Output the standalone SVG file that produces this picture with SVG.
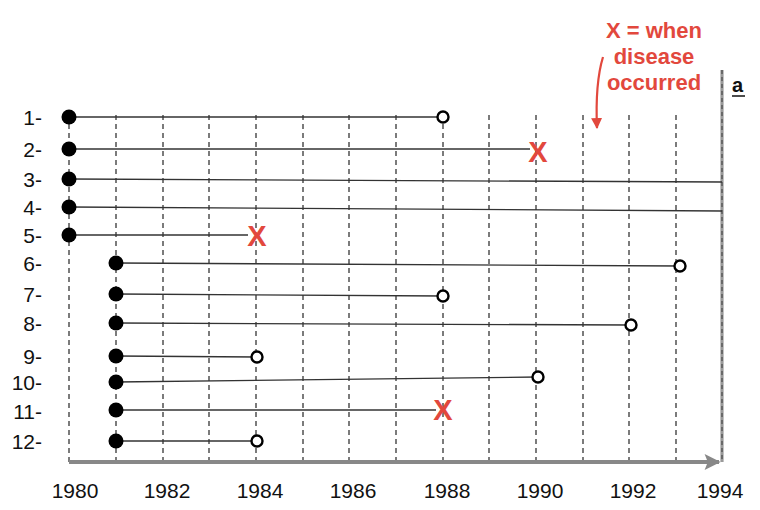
<svg xmlns="http://www.w3.org/2000/svg" width="760" height="510" viewBox="0 0 760 510">
<style>
.grid{stroke:#444;stroke-width:1.4;stroke-dasharray:5 4;fill:none}
.life{stroke:#333;stroke-width:1.3;fill:none}
.start{fill:#000}
.end{fill:#fff;stroke:#000;stroke-width:2.4}
.lbl{font-family:"Liberation Sans",Arial,sans-serif;font-size:21px;fill:#111}
.yr{font-family:"Liberation Sans",Arial,sans-serif;font-size:21px;fill:#111;text-anchor:middle}
.x{font-family:"Liberation Sans",Arial,sans-serif;font-size:29px;font-weight:bold;fill:#e2483d;text-anchor:middle}
.note{font-family:"Liberation Sans",Arial,sans-serif;font-size:22px;font-weight:bold;fill:#e2483d;text-anchor:middle}
</style>
<defs>
<marker id="ah" viewBox="0 0 10 10" refX="9" refY="5" markerWidth="5" markerHeight="5" orient="auto"><path d="M0,0 L10,5 L0,10 Z" fill="#e2483d"/></marker>
<marker id="axh" viewBox="0 0 10 10" refX="9" refY="5" markerWidth="6" markerHeight="4" orient="auto" markerUnits="strokeWidth"><path d="M0,0 L10,5 L0,10 L2,5 Z" fill="#888"/></marker>
</defs>
<g id="grid">
<line class="grid" x1="69" y1="115" x2="69" y2="462"/>
<line class="grid" x1="116" y1="115" x2="116" y2="462"/>
<line class="grid" x1="163" y1="115" x2="163" y2="462"/>
<line class="grid" x1="209" y1="115" x2="209" y2="462"/>
<line class="grid" x1="256" y1="115" x2="256" y2="462"/>
<line class="grid" x1="303" y1="115" x2="303" y2="462"/>
<line class="grid" x1="349" y1="115" x2="349" y2="462"/>
<line class="grid" x1="396" y1="115" x2="396" y2="462"/>
<line class="grid" x1="443" y1="115" x2="443" y2="462"/>
<line class="grid" x1="489" y1="115" x2="489" y2="462"/>
<line class="grid" x1="536" y1="115" x2="536" y2="462"/>
<line class="grid" x1="583" y1="115" x2="583" y2="462"/>
<line class="grid" x1="629" y1="115" x2="629" y2="462"/>
<line class="grid" x1="676" y1="115" x2="676" y2="462"/>
<line x1="722" y1="70" x2="722" y2="462" stroke="#9a9a9a" stroke-width="3.2"/>
<line x1="722" y1="70" x2="722" y2="462" stroke="#555" stroke-width="1.4" stroke-dasharray="4 3"/>
</g>
<g id="axis">
<line x1="69" y1="462" x2="719" y2="462" stroke="#888" stroke-width="4" marker-end="url(#axh)"/>
<text class="yr" x="75" y="498">1980</text>
<text class="yr" x="167" y="498">1982</text>
<text class="yr" x="260" y="498">1984</text>
<text class="yr" x="353" y="498">1986</text>
<text class="yr" x="447" y="498">1988</text>
<text class="yr" x="540" y="498">1990</text>
<text class="yr" x="633" y="498">1992</text>
<text class="yr" x="720" y="498">1994</text>
</g>
<g id="connectors">
<line class="life" x1="69" y1="117" x2="443" y2="117"/>
<line class="life" x1="69" y1="149" x2="530" y2="149"/>
<line class="life" x1="69" y1="179" x2="722" y2="182"/>
<line class="life" x1="69" y1="207" x2="722" y2="211"/>
<line class="life" x1="69" y1="235" x2="248" y2="235"/>
<line class="life" x1="116" y1="263" x2="680" y2="266"/>
<line class="life" x1="116" y1="294" x2="443" y2="296"/>
<line class="life" x1="116" y1="323" x2="631" y2="325"/>
<line class="life" x1="116" y1="356" x2="257" y2="357"/>
<line class="life" x1="116" y1="382" x2="538" y2="377"/>
<line class="life" x1="116" y1="410" x2="436" y2="410"/>
<line class="life" x1="116" y1="441" x2="257" y2="441"/>
<path d="M603,57 C596,80 596,105 597,128" stroke="#e2483d" stroke-width="2.2" fill="none" marker-end="url(#ah)"/>
</g>
<g id="subject-1"><text class="lbl" x="42" y="125" text-anchor="end">1-</text><circle class="start" cx="69" cy="117" r="7.5"/><circle class="end" cx="443" cy="117" r="5.5"/></g>
<g id="subject-2"><text class="lbl" x="42" y="157" text-anchor="end">2-</text><circle class="start" cx="69" cy="149" r="7.5"/><text class="x" x="538" y="162">X</text></g>
<g id="subject-3"><text class="lbl" x="42" y="187" text-anchor="end">3-</text><circle class="start" cx="69" cy="179" r="7.5"/></g>
<g id="subject-4"><text class="lbl" x="42" y="215" text-anchor="end">4-</text><circle class="start" cx="69" cy="207" r="7.5"/></g>
<g id="subject-5"><text class="lbl" x="42" y="243" text-anchor="end">5-</text><circle class="start" cx="69" cy="235" r="7.5"/><text class="x" x="257" y="246">X</text></g>
<g id="subject-6"><text class="lbl" x="42" y="271" text-anchor="end">6-</text><circle class="start" cx="116" cy="263" r="7.5"/><circle class="end" cx="680" cy="266" r="5.5"/></g>
<g id="subject-7"><text class="lbl" x="42" y="302" text-anchor="end">7-</text><circle class="start" cx="116" cy="294" r="7.5"/><circle class="end" cx="443" cy="296" r="5.5"/></g>
<g id="subject-8"><text class="lbl" x="42" y="331" text-anchor="end">8-</text><circle class="start" cx="116" cy="323" r="7.5"/><circle class="end" cx="631" cy="325" r="5.5"/></g>
<g id="subject-9"><text class="lbl" x="42" y="364" text-anchor="end">9-</text><circle class="start" cx="116" cy="356" r="7.5"/><circle class="end" cx="257" cy="357" r="5.5"/></g>
<g id="subject-10"><text class="lbl" x="42" y="390" text-anchor="end">10-</text><circle class="start" cx="116" cy="382" r="7.5"/><circle class="end" cx="538" cy="377" r="5.5"/></g>
<g id="subject-11"><text class="lbl" x="42" y="419" text-anchor="end">11-</text><circle class="start" cx="116" cy="410" r="7.5"/><text class="x" x="443" y="420">X</text></g>
<g id="subject-12"><text class="lbl" x="42" y="449" text-anchor="end">12-</text><circle class="start" cx="116" cy="441" r="7.5"/><circle class="end" cx="257" cy="441" r="5.5"/></g>
<g id="note">
<text class="note" x="654" y="38">X = when</text>
<text class="note" x="654" y="64">disease</text>
<text class="note" x="654" y="90">occurred</text>
</g>
<g id="edge">
<text x="732" y="92" font-family="Liberation Sans,Arial,sans-serif" font-size="20" font-weight="bold" fill="#111">a</text>
<line x1="732" y1="96" x2="745" y2="96" stroke="#111" stroke-width="1.5"/>
</g>
</svg>
